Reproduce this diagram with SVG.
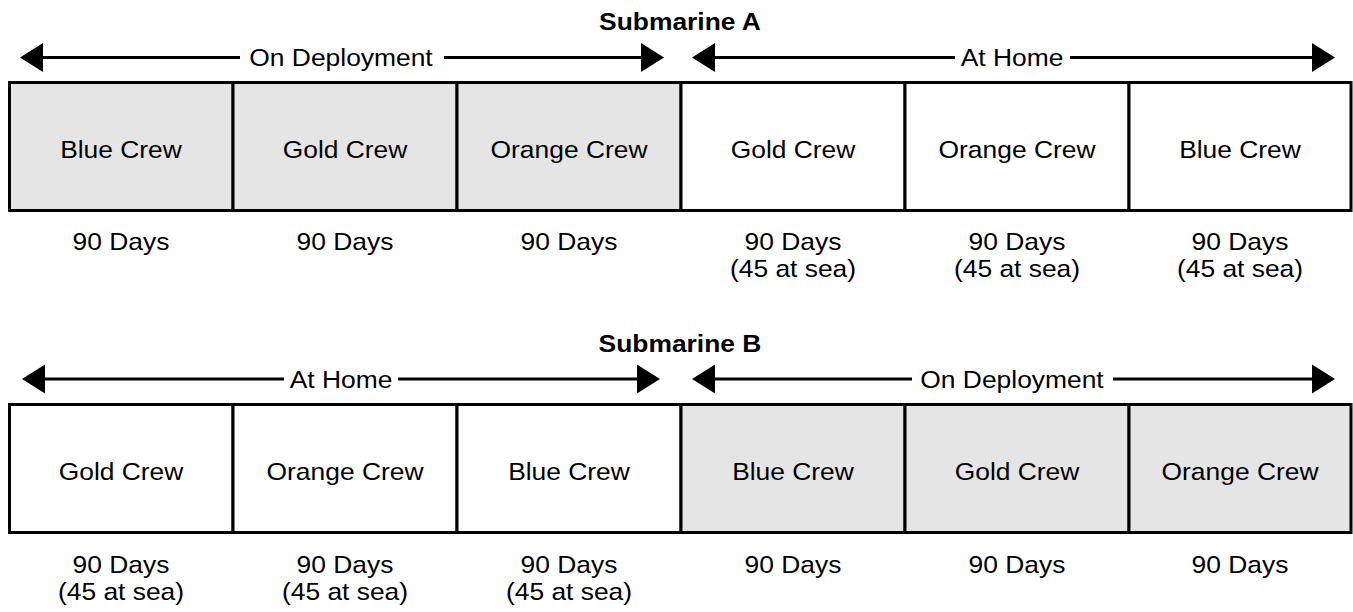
<svg xmlns="http://www.w3.org/2000/svg" width="1353" height="612" viewBox="0 0 1353 612">
<defs>
<style>
text{font-family:"Liberation Sans",Arial,Helvetica,sans-serif;font-size:24px;fill:#000;text-anchor:middle}
.title{font-weight:bold}
.cell{stroke:#000;stroke-width:3}
.dep{fill:#e5e5e5}
.home{fill:#fff}
.span{stroke:#000;stroke-width:3;fill:none}
.s{marker-start:url(#ah)}
.e{marker-end:url(#ah)}
</style>
<marker id="ah" markerUnits="userSpaceOnUse" markerWidth="24" markerHeight="30" viewBox="0 -15 24 30" refX="0" refY="0" orient="auto-start-reverse">
<path d="M0,-14.5 L23,0 L0,14.5 z" fill="#000"/>
</marker>
</defs>
<rect width="1353" height="612" fill="#fff"/>

<g id="submarine-a">
<text class="title" transform="translate(680,30) scale(1.1,1)">Submarine A</text>
<g id="a-cell-1"><rect class="cell dep" x="9.5" y="82.5" width="223.5" height="128"/><text transform="translate(121,158) scale(1.1,1)">Blue Crew</text><text transform="translate(121,250) scale(1.1,1)">90 Days</text></g>
<g id="a-cell-2"><rect class="cell dep" x="233" y="82.5" width="224" height="128"/><text transform="translate(345,158) scale(1.1,1)">Gold Crew</text><text transform="translate(345,250) scale(1.1,1)">90 Days</text></g>
<g id="a-cell-3"><rect class="cell dep" x="457" y="82.5" width="224" height="128"/><text transform="translate(569,158) scale(1.1,1)">Orange Crew</text><text transform="translate(569,250) scale(1.1,1)">90 Days</text></g>
<g id="a-cell-4"><rect class="cell home" x="681" y="82.5" width="224" height="128"/><text transform="translate(793,158) scale(1.1,1)">Gold Crew</text><text transform="translate(793,250) scale(1.1,1)">90 Days</text><text transform="translate(793,277) scale(1.1,1)">(45 at sea)</text></g>
<g id="a-cell-5"><rect class="cell home" x="905" y="82.5" width="224" height="128"/><text transform="translate(1017,158) scale(1.1,1)">Orange Crew</text><text transform="translate(1017,250) scale(1.1,1)">90 Days</text><text transform="translate(1017,277) scale(1.1,1)">(45 at sea)</text></g>
<g id="a-cell-6"><rect class="cell home" x="1129" y="82.5" width="222" height="128"/><text transform="translate(1240,158) scale(1.1,1)">Blue Crew</text><text transform="translate(1240,250) scale(1.1,1)">90 Days</text><text transform="translate(1240,277) scale(1.1,1)">(45 at sea)</text></g>
<g id="a-span-deployment-label"><text transform="translate(341,66) scale(1.1,1)">On Deployment</text></g>
<g id="a-span-home-label"><text transform="translate(1012,66) scale(1.1,1)">At Home</text></g>
</g>

<g id="submarine-b">
<text class="title" transform="translate(680,352) scale(1.1,1)">Submarine B</text>
<g id="b-cell-1"><rect class="cell home" x="9.5" y="404.5" width="223.5" height="128"/><text transform="translate(121,480) scale(1.1,1)">Gold Crew</text><text transform="translate(121,573) scale(1.1,1)">90 Days</text><text transform="translate(121,600) scale(1.1,1)">(45 at sea)</text></g>
<g id="b-cell-2"><rect class="cell home" x="233" y="404.5" width="224" height="128"/><text transform="translate(345,480) scale(1.1,1)">Orange Crew</text><text transform="translate(345,573) scale(1.1,1)">90 Days</text><text transform="translate(345,600) scale(1.1,1)">(45 at sea)</text></g>
<g id="b-cell-3"><rect class="cell home" x="457" y="404.5" width="224" height="128"/><text transform="translate(569,480) scale(1.1,1)">Blue Crew</text><text transform="translate(569,573) scale(1.1,1)">90 Days</text><text transform="translate(569,600) scale(1.1,1)">(45 at sea)</text></g>
<g id="b-cell-4"><rect class="cell dep" x="681" y="404.5" width="224" height="128"/><text transform="translate(793,480) scale(1.1,1)">Blue Crew</text><text transform="translate(793,573) scale(1.1,1)">90 Days</text></g>
<g id="b-cell-5"><rect class="cell dep" x="905" y="404.5" width="224" height="128"/><text transform="translate(1017,480) scale(1.1,1)">Gold Crew</text><text transform="translate(1017,573) scale(1.1,1)">90 Days</text></g>
<g id="b-cell-6"><rect class="cell dep" x="1129" y="404.5" width="222" height="128"/><text transform="translate(1240,480) scale(1.1,1)">Orange Crew</text><text transform="translate(1240,573) scale(1.1,1)">90 Days</text></g>
<g id="b-span-home-label"><text transform="translate(341,388) scale(1.1,1)">At Home</text></g>
<g id="b-span-deployment-label"><text transform="translate(1012,388) scale(1.1,1)">On Deployment</text></g>
</g>

<g id="connectors">
<path class="span s" d="M43,57.5 H240"/>
<path class="span e" d="M444,57.5 H641"/>
<path class="span s" d="M715,57.5 H955"/>
<path class="span e" d="M1070,57.5 H1312"/>
<path class="span s" d="M45,379 H284"/>
<path class="span e" d="M398,379 H637"/>
<path class="span s" d="M715,379 H912"/>
<path class="span e" d="M1113,379 H1312"/>
</g>
</svg>
